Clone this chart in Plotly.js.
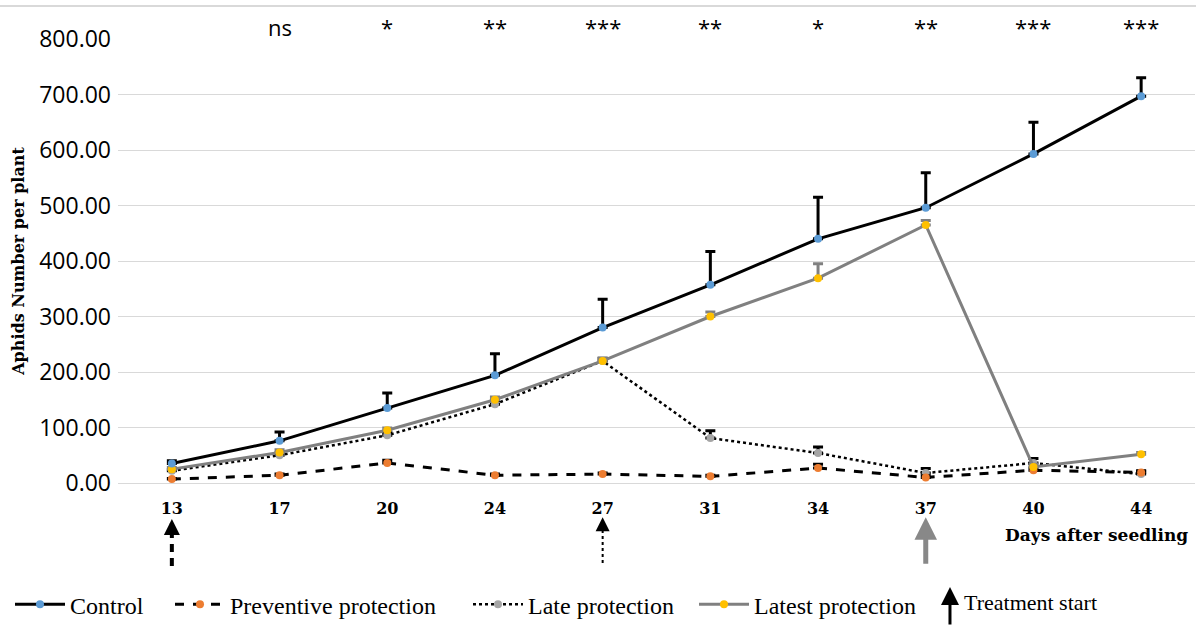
<!DOCTYPE html>
<html>
<head>
<meta charset="utf-8">
<script src="https://cdn.plot.ly/plotly-3.0.1.min.js"></script>
<style>html,body{margin:0;padding:0;background:#fff;}#chart{width:1196px;height:626px;}</style>
</head>
<body>
<div id="chart"></div>
<script>
// ---- data ----
var days = ['13', '17', '20', '24', '27', '31', '34', '37', '40', '44'];
var control = [35, 76, 135, 194, 280, 357, 440, 496, 593, 697];
var controlErr = [5, 16, 27, 39, 51, 60, 75, 63, 57, 33];
var preventive = [7, 14, 36, 14, 16, 12, 27, 10, 23, 19];
var preventiveErr = [1, 2, 5, 2, 2, 2, 7, 3, 4, 3];
var late = [22, 50, 86, 142, 220, 81, 54, 18, 36, 16];
var lateErr = [2, 4, 5, 6, 5, 13, 11, 8, 8, 5];
var latest = [25, 55, 95, 150, 220, 300, 369, 465, 29, 52];
var latestErr = [3, 5, 4, 5, 5, 8, 26, 8, 5, 3];
var signif = ['', 'ns', '*', '**', '***', '**', '*', '**', '***', '***'];
var seriesNames = ['Control', 'Preventive protection', 'Late protection', 'Latest protection'];
var treatmentDays = ['13', '27', '37']; // preventive, late, latest treatment start

var serif = 'DejaVu Serif';
var legendSerif = 'Liberation Serif';

function idx(day) { return days.indexOf(day); }

function trace(name, y, err, lineColor, dash, width, markerColor, errColor, legendId) {
  return {
    type: 'scatter', mode: 'lines+markers', name: name, x: days, y: y,
    line: {color: lineColor, dash: dash, width: width},
    marker: {color: markerColor, size: 8},
    error_y: {type: 'data', array: err, symmetric: false, arrayminus: err.map(function(){return 0;}),
              color: errColor, thickness: 3, width: 5},
    cliponaxis: false,
    legend: legendId
  };
}

var tControl = trace(seriesNames[0], control, controlErr, '#000000', 'solid', 3, '#5B9BD5', '#000000', 'legend');
var tPrev = trace(seriesNames[1], preventive, preventiveErr, '#000000', 'dash', 3, '#ED7D31', '#000000', 'legend2');
var tLate = trace(seriesNames[2], late, lateErr, '#000000', 'dot', 2.5, '#A5A5A5', '#000000', 'legend3');
var tLatest = trace(seriesNames[3], latest, latestErr, '#808080', 'solid', 3, '#FFC000', '#808080', 'legend4');
var data = [tLate, tPrev, tLatest, tControl];

var annotations = [];
days.forEach(function(d, i) {
  if (signif[i]) {
    annotations.push({x: i, xref: 'x', y: 1.027, yref: 'paper', text: signif[i], showarrow: false,
      xanchor: 'center', yanchor: 'middle', font: {family: 'Open Sans', size: 22, color: '#000'}});
  }
});
annotations.push({x: 0.909, xref: 'paper', y: -0.117, yref: 'paper', text: '<b>Days after seedling</b>',
  showarrow: false, xanchor: 'center', yanchor: 'middle', font: {family: serif, size: 17, color: '#000'}});
// arrow heads under x axis
annotations.push({x: idx(treatmentDays[0]), xref: 'x', y: -0.081, yref: 'paper', text: '', showarrow: true,
  ax: 0, ay: 12, arrowhead: 2, arrowsize: 0.8, arrowwidth: 4, arrowcolor: '#000'});
annotations.push({x: idx(treatmentDays[1]), xref: 'x', y: -0.077, yref: 'paper', text: '', showarrow: true,
  ax: 0, ay: 9, arrowhead: 2, arrowsize: 1.4, arrowwidth: 2, arrowcolor: '#000'});
annotations.push({x: idx(treatmentDays[2]), xref: 'x', y: -0.077, yref: 'paper', text: '', showarrow: true,
  ax: 0, ay: 48, arrowhead: 2, arrowsize: 0.9, arrowwidth: 5, arrowcolor: '#888888'});
// treatment start legend arrow
annotations.push({x: 0.7725, xref: 'paper', y: -0.234, yref: 'paper', text: '', showarrow: true,
  ax: 0, ay: 40, arrowhead: 2, arrowsize: 1.2, arrowwidth: 3, arrowcolor: '#000'});
annotations.push({x: 0.7835, xref: 'paper', y: -0.27, yref: 'paper', text: 'Treatment start',
  xanchor: 'left', yanchor: 'middle', showarrow: false, font: {family: legendSerif, size: 22, color: '#000'}});

var shapes = [
  {type: 'line', xref: 'x', yref: 'paper', x0: idx(treatmentDays[0]), x1: idx(treatmentDays[0]), y0: -0.187, y1: -0.108,
   line: {color: '#000', width: 4, dash: '8px,6px'}},
  {type: 'line', xref: 'x', yref: 'paper', x0: idx(treatmentDays[1]), x1: idx(treatmentDays[1]), y0: -0.18, y1: -0.095,
   line: {color: '#000', width: 2, dash: 'dot'}},
  {type: 'line', xref: 'paper', yref: 'paper', x0: -0.12, x1: 1.01, y0: 1.0743, y1: 1.0743,
   line: {color: '#d9d9d9', width: 2}}
];

function legendAt(px) {
  return {orientation: 'h', xref: 'container', yref: 'container', x: px / 1196, y: 0.034,
    xanchor: 'left', yanchor: 'middle', itemwidth: 50,
    font: {family: legendSerif, size: 24, color: '#000'}, bgcolor: 'rgba(0,0,0,0)'};
}

var layout = {
  width: 1196, height: 626,
  margin: {l: 118, r: 1, t: 39, b: 143},
  paper_bgcolor: '#fff', plot_bgcolor: '#fff',
  showlegend: true,
  legend: legendAt(10), legend2: legendAt(170), legend3: legendAt(468), legend4: legendAt(694),
  xaxis: {type: 'category', range: [-0.5, days.length - 0.5], autorange: false,
    showgrid: false, zeroline: false, showline: false, ticks: '',
    tickfont: {family: serif, size: 16, color: '#000', weight: 'bold'}, ticklabelstandoff: 14,
    tickangle: 0, fixedrange: true},
  yaxis: {range: [0, 800], dtick: 100, tickformat: '.2f', showgrid: true, gridcolor: '#d9d9d9', gridwidth: 1,
    zeroline: true, zerolinecolor: '#d9d9d9', zerolinewidth: 1, showline: false, ticks: '',
    tickfont: {family: 'Open Sans', size: 23, color: '#000'}, ticklabelstandoff: 6,
    title: {text: '<b>Aphids Number per plant</b>', font: {family: serif, size: 16, color: '#000'}, standoff: 10},
    fixedrange: true},
  annotations: annotations,
  shapes: shapes
};

Plotly.newPlot('chart', data, layout, {displayModeBar: false, staticPlot: true});
</script>
</body>
</html>
